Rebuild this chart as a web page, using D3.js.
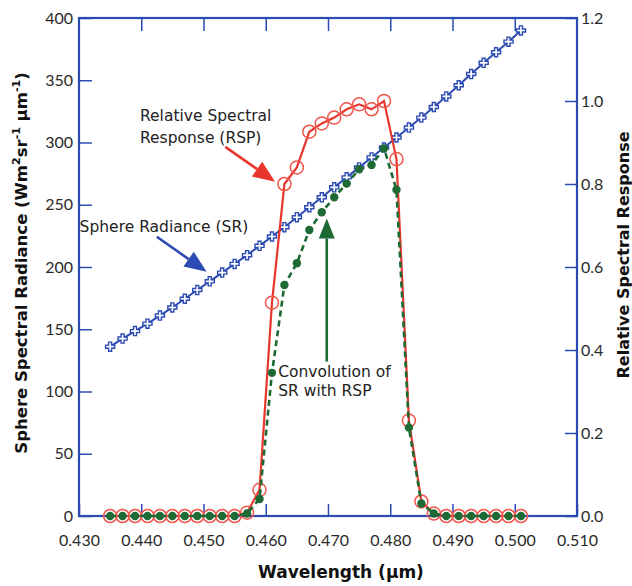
<!DOCTYPE html>
<html>
<head>
<meta charset="utf-8">
<script src="https://cdn.jsdelivr.net/npm/d3@7"></script>
<style>
  body { margin: 0; background: #fff; }
  svg { display: block; }
</style>
</head>
<body>
<div id="chart"></div>
<script>
// wavelength samples (µm)
const wavelengths = [0.435, 0.437, 0.439, 0.441, 0.443, 0.445, 0.447, 0.449, 0.451, 0.453,
  0.455, 0.457, 0.459, 0.461, 0.463, 0.465, 0.467, 0.469, 0.471, 0.473,
  0.475, 0.477, 0.479, 0.481, 0.483, 0.485, 0.487, 0.489, 0.491, 0.493,
  0.495, 0.497, 0.499, 0.501];

// sphere radiance (left axis)
const sphereRadiance = [136, 142.5, 148.5, 154.5, 161, 167.5, 174.5, 181.5, 188.5, 195.5,
  202.5, 209.5, 217, 224.5, 232, 240, 248, 256, 264, 272,
  280, 288, 296, 304, 312, 320, 328.5, 337, 346, 355,
  364, 372.5, 381, 390];

// relative spectral response (right axis)
const relResponse = [0, 0, 0, 0, 0, 0, 0, 0, 0, 0,
  0, 0.008, 0.063, 0.514, 0.80, 0.84, 0.926, 0.946, 0.96, 0.98,
  0.992, 0.98, 1.0, 0.86, 0.23, 0.035, 0.006, 0, 0, 0,
  0, 0, 0, 0];

// convolution SR x RSP (left axis)
const convolution = [0, 0, 0, 0, 0, 0, 0, 0, 0, 0,
  0, 2, 13.7, 115, 185.5, 203, 229.7, 244, 256, 267,
  278.5, 282, 295.3, 262, 71, 10, 2, 0, 0, 0,
  0, 0, 0, 0];

const xTicks = [0.430, 0.440, 0.450, 0.460, 0.470, 0.480, 0.490, 0.500, 0.510];
const yLeftTicks = [0, 50, 100, 150, 200, 250, 300, 350, 400];
const yRightTicks = [0, 0.2, 0.4, 0.6, 0.8, 1.0, 1.2];

const width = 632, height = 586;
const margin = { top: 18, right: 55, bottom: 70, left: 79 };

const blue = "#2c4bb2";
const red = "#e8362c";
const green = "#1d6a34";

const svg = d3.select("#chart").append("svg")
  .attr("width", width)
  .attr("height", height);

const x = d3.scaleLinear().domain([0.430, 0.510]).range([margin.left, width - margin.right]);
const yL = d3.scaleLinear().domain([0, 400]).range([height - margin.bottom, margin.top]);
const yR = d3.scaleLinear().domain([0, 1.2]).range([height - margin.bottom, margin.top]);

const x0 = x.range()[0], x1 = x.range()[1];
const y0 = yL.range()[0], y1 = yL.range()[1];

const tickFont = "Lato, 'DejaVu Sans', sans-serif";
const titleFont = "'DejaVu Sans', sans-serif";

// axes
const bottomAxis = d3.axisBottom(x).tickValues(xTicks).tickSize(-12).tickPadding(19)
  .tickFormat(d3.format(".3f"));
const topAxis = d3.axisTop(x).tickValues(xTicks.slice(1, -1)).tickSize(-13).tickFormat("");
const leftAxis = d3.axisLeft(yL).tickValues(yLeftTicks).tickSize(-13).tickPadding(6);
const rightAxis = d3.axisRight(yR).tickValues(yRightTicks).tickSize(-12).tickPadding(4)
  .tickFormat(d3.format(".1f"));

function styleAxis(g) {
  g.selectAll("path").remove();
  g.selectAll("line").attr("stroke", blue).attr("stroke-width", 1.5);
  g.selectAll("text").attr("fill", "#2a2a2a").style("font-family", tickFont).style("font-size", "16px");
}

svg.append("g").attr("transform", `translate(0,${y0})`).call(bottomAxis).call(styleAxis);
svg.append("g").attr("transform", `translate(0,${y1})`).call(topAxis).call(styleAxis);
svg.append("g").attr("transform", `translate(${x0},0)`).call(leftAxis).call(styleAxis);
svg.append("g").attr("transform", `translate(${x1},0)`).call(rightAxis).call(styleAxis);

// frame
svg.append("rect")
  .attr("x", x0).attr("y", y1)
  .attr("width", x1 - x0).attr("height", y0 - y1)
  .attr("fill", "none").attr("stroke", blue).attr("stroke-width", 2.2);

// axis titles
svg.append("text")
  .attr("transform", `translate(27,263) rotate(-90)`)
  .attr("text-anchor", "middle")
  .style("font-family", titleFont).style("font-weight", "bold").style("font-size", "16.5px")
  .attr("fill", "#111")
  .html("Sphere Spectral Radiance (Wm<tspan dy='-7' font-size='11px'>2</tspan><tspan dy='7'>sr</tspan><tspan dy='-7' font-size='11px'>-1</tspan><tspan dy='7'> µm</tspan><tspan dy='-7' font-size='11px'>-1</tspan><tspan dy='7'>)</tspan>");

svg.append("text")
  .attr("transform", `translate(629,255) rotate(-90)`)
  .attr("text-anchor", "middle")
  .style("font-family", titleFont).style("font-weight", "bold").style("font-size", "16px")
  .attr("fill", "#111")
  .text("Relative Spectral Response");

svg.append("text")
  .attr("x", 341).attr("y", 578)
  .attr("text-anchor", "middle")
  .style("font-family", titleFont).style("font-weight", "bold").style("font-size", "17px")
  .attr("fill", "#111")
  .text("Wavelength (µm)");

// series
const idx = d3.range(wavelengths.length);

// sphere radiance
svg.append("path")
  .datum(idx)
  .attr("fill", "none").attr("stroke", blue).attr("stroke-width", 2)
  .attr("d", d3.line().x(i => x(wavelengths[i])).y(i => yL(sphereRadiance[i])));

svg.append("g").selectAll("path")
  .data(idx)
  .join("path")
  .attr("transform", i => `translate(${x(wavelengths[i])},${yL(sphereRadiance[i])})`)
  .attr("d", d3.symbol(d3.symbolCross, 46))
  .attr("fill", "#fff").attr("stroke", blue).attr("stroke-width", 1.4);

// relative spectral response
svg.append("path")
  .datum(idx)
  .attr("fill", "none").attr("stroke", red).attr("stroke-width", 2.2)
  .attr("d", d3.line().x(i => x(wavelengths[i])).y(i => yR(relResponse[i])));

svg.append("g").selectAll("circle")
  .data(idx)
  .join("circle")
  .attr("cx", i => x(wavelengths[i]))
  .attr("cy", i => yR(relResponse[i]))
  .attr("r", 6.5)
  .attr("fill", "none").attr("stroke", "#f0564a").attr("stroke-width", 1.5);

// convolution
svg.append("path")
  .datum(idx)
  .attr("fill", "none").attr("stroke", green).attr("stroke-width", 2.6)
  .attr("stroke-dasharray", "6,4")
  .attr("d", d3.line().x(i => x(wavelengths[i])).y(i => yL(convolution[i])));

svg.append("g").selectAll("circle")
  .data(idx)
  .join("circle")
  .attr("cx", i => x(wavelengths[i]))
  .attr("cy", i => yL(convolution[i]))
  .attr("r", 4.2)
  .attr("fill", green);

// annotations (data coordinates: wavelength, left-axis value)
const labelFont = "'DejaVu Sans', sans-serif";
const labels = [
  { text: "Relative Spectral", w: 0.4398, v: 317 },
  { text: "Response (RSP)", w: 0.4398, v: 299.5 },
  { text: "Sphere Radiance (SR)", w: 0.4301, v: 228 },
  { text: "Convolution of", w: 0.4620, v: 111.5 },
  { text: "SR with RSP", w: 0.4620, v: 96.5 }
];

svg.append("g").selectAll("text")
  .data(labels)
  .join("text")
  .attr("x", d => x(d.w))
  .attr("y", d => yL(d.v))
  .style("font-family", labelFont).style("font-size", "15.5px")
  .attr("fill", "#222")
  .text(d => d.text);

const arrows = [
  { from: [0.4535, 296.5], to: [0.4615, 268.5], color: red, head: 22, hw: 9 },
  { from: [0.4425, 224.3], to: [0.4505, 196.2], color: blue, head: 22, hw: 9 },
  { from: [0.4698, 124], to: [0.4698, 239], color: green, head: 20, hw: 8 }
];

arrows.forEach(a => {
  const sx = x(a.from[0]), sy = yL(a.from[1]);
  const tx = x(a.to[0]), ty = yL(a.to[1]);
  const len = Math.hypot(tx - sx, ty - sy);
  const ux = (tx - sx) / len, uy = (ty - sy) / len;
  const bx = tx - ux * a.head, by = ty - uy * a.head;
  svg.append("line")
    .attr("x1", sx).attr("y1", sy).attr("x2", bx).attr("y2", by)
    .attr("stroke", a.color).attr("stroke-width", 2.6);
  svg.append("path")
    .attr("d", `M${tx},${ty}L${bx - uy * a.hw},${by + ux * a.hw}L${bx + uy * a.hw},${by - ux * a.hw}Z`)
    .attr("fill", a.color);
});
</script>
</body>
</html>
